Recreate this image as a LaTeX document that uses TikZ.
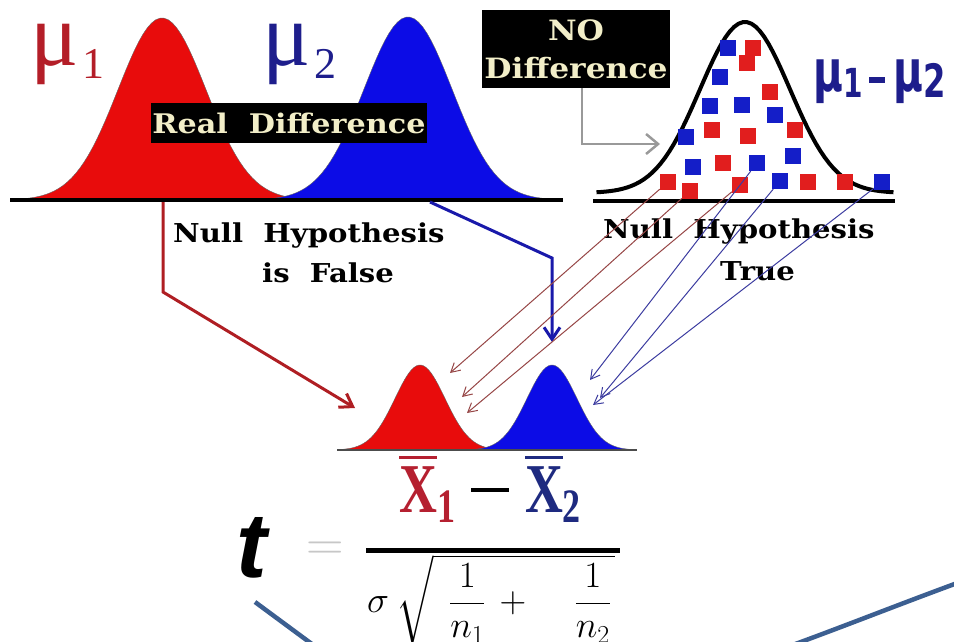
\RequirePackage{fix-cm}
\documentclass[tikz,border=0pt]{standalone}
\DeclareFontFamily{OMX}{cmex}{}
\DeclareFontShape{OMX}{cmex}{m}{n}{<->cmex10}{}
\usepackage{fontspec}
\usetikzlibrary{arrows.meta,positioning}
\newfontfamily\slabfont[FakeStretch=1.12]{DejaVu Serif}
\newfontfamily\mufont{Liberation Serif}
\newfontfamily\xfont[FakeStretch=0.75]{Liberation Serif}
\newfontfamily\narrowsans[FakeStretch=0.7]{DejaVu Sans}
\newfontfamily\tfont{Liberation Sans}
\definecolor{bellred}{RGB}{232,12,12}
\definecolor{bellblue}{RGB}{12,12,230}
\definecolor{mured}{RGB}{180,30,40}
\definecolor{mublue}{RGB}{30,30,140}
\definecolor{arrred}{RGB}{175,30,35}
\definecolor{arrblue}{RGB}{25,25,170}
\definecolor{thinr}{RGB}{150,70,70}
\definecolor{thinb}{RGB}{60,60,160}
\definecolor{boxtext}{RGB}{242,238,200}
\definecolor{sqred}{RGB}{225,30,30}
\definecolor{sqblue}{RGB}{20,30,200}
\definecolor{xred}{RGB}{181,32,48}
\definecolor{xblue}{RGB}{30,42,128}
\definecolor{steel}{RGB}{60,95,145}
\newcommand{\bellcurve}[4]{plot[domain=-3.3:3.3,samples=70] ({#1+#2*\x},{#4-(#4-#3)*exp(-\x*\x/2)})}
\newcommand{\barX}{\rlap{\raisebox{53pt}{\rule{38pt}{3pt}}}X}

\begin{document}
\begin{tikzpicture}[x=1pt,y=-1pt,
  labelbox/.style={fill=black,text=boxtext,inner sep=0pt,align=center,
                   font=\slabfont\bfseries\fontsize{27}{38}\selectfont},
  hyp/.style={anchor=base west,inner sep=0pt,font=\slabfont\bfseries\fontsize{26}{30}\selectfont},
  bigmu/.style={anchor=base west,inner sep=0pt,text height=46pt,text depth=16pt,
                font=\mufont\fontsize{90}{90}\selectfont},
  redsq/.style={fill=sqred,minimum size=16pt,inner sep=0pt},
  bluesq/.style={fill=sqblue,minimum size=16pt,inner sep=0pt},
  thickarr/.style={line width=3pt,-{Straight Barb[length=12pt,width=16pt]}},
  thinred/.style={draw=thinr,line width=1pt,-{Straight Barb[length=9pt,width=10pt]}},
  thinblue/.style={draw=thinb,line width=1pt,-{Straight Barb[length=9pt,width=10pt]}}]
  \useasboundingbox (0,0) rectangle (954,642);
  \clip (0,0) rectangle (954,642);
  % populations with a real difference
  \fill[bellred,draw=black!60] \bellcurve{162}{44}{18}{200} -- cycle;
  \fill[bellblue,draw=black!60] \bellcurve{408}{44}{17}{200} -- cycle;
  \draw[line width=4pt] (10,200) -- (563,200);
  \node[bigmu,text=mured] (mu1) at (30,66) {μ\hspace{4pt}\raisebox{-13pt}{\fontsize{44}{44}\selectfont 1}};
  \node[bigmu,text=mublue] (mu2) at (262,66) {μ\hspace{4pt}\raisebox{-13pt}{\fontsize{44}{44}\selectfont 2}};
  \node[labelbox,minimum width=276pt,minimum height=39pt] (realbox) at (289,123) {Real\ \ Difference};
  \node[hyp] (nullf) at (173,242) {Null\ \ Hypothesis};
  \node[hyp] (isfalse) at (262,282) {is\ \ False};
  % population with no difference
  \node[labelbox,minimum width=188pt,minimum height=78pt,font=\slabfont\bfseries\fontsize{28}{38}\selectfont]
       (nobox) at (576,49) {NO\\Difference};
  \draw[line width=4pt] \bellcurve{745}{45}{22}{193};
  \draw[line width=3.5pt] (593,201) -- (895,201);
  \foreach \px/\py [count=\i] in {753/48,747/63,770/92,712/130,748/136,795/130,
                                  723/163,668/182,690/191,740/185,808/182,845/182}
    \node[redsq] (r\i) at (\px,\py) {};
  \foreach \px/\py [count=\i] in {728/48,720/77,710/106,742/105,775/115,686/137,
                                  693/167,757/163,793/156,780/181,882/182}
    \node[bluesq] (b\i) at (\px,\py) {};
  \node[anchor=base west,inner sep=0pt,text=mublue,font=\narrowsans\bfseries\fontsize{58}{58}\selectfont] (mudiff)
       at (813,92) {μ\raisebox{-6pt}{\fontsize{40}{40}\selectfont 1}\hspace{6pt}\rule[9pt]{16pt}{6pt}\hspace{9pt}%
                    μ\raisebox{-6pt}{\fontsize{46}{46}\selectfont 2}};
  \node[hyp] (nullt) at (603,238) {Null\ \ Hypothesis};
  \node[hyp] (true) at (720,280) {True};
  \coordinate (gtip) at (660,144);
  \draw[line width=2.5pt,black!40,-{Straight Barb[length=12pt,width=20pt]}] ([xshift=6pt]nobox.south) |- (gtip);
  % sampling distributions
  \fill[bellred,draw=black!60] \bellcurve{420}{25}{365}{450} -- cycle;
  \fill[bellblue,draw=black!60] \bellcurve{552}{25}{365}{450} -- cycle;
  \draw[line width=1.5pt,black!70] (337,450) -- (637,450);
  \coordinate (redfoot) at (163,202);
  \coordinate (rbend) at (163,292);
  \coordinate (hitred) at (355,408);
  \coordinate (bluefoot) at (430,202);
  \coordinate (bbend) at (552,258);
  \coordinate (hitblue) at (552,342);
  \draw[thickarr,draw=arrred] (redfoot) -- (rbend) -- (hitred);
  \draw[thickarr,draw=arrblue] (bluefoot) -- (bbend) -- (hitblue);
  \coordinate (rt1) at (450,373);
  \coordinate (rt2) at (462,397);
  \coordinate (rt3) at (467,413);
  \coordinate (bt1) at (590,380);
  \coordinate (bt2) at (600,398);
  \coordinate (bt3) at (593,405);
  \draw[thinred] (r8) -- (rt1);
  \draw[thinred] (r9) -- (rt2);
  \draw[thinred] (r10) -- (rt3);
  \draw[thinblue] (b8) -- (bt1);
  \draw[thinblue] (b10) -- (bt2);
  \draw[thinblue] (b11) -- (bt3);
  % t statistic
  \node[anchor=base,inner sep=0pt,font=\xfont\bfseries\fontsize{70}{70}\selectfont] (numer) at (490,512)
       {{\color{xred}\barX\raisebox{-10pt}{\fontsize{48}{48}\selectfont 1}}\hspace{16pt}%
        \raisebox{20pt}{\rule{38pt}{4.5pt}}\hspace{16pt}%
        {\color{xblue}\barX\raisebox{-10pt}{\fontsize{48}{48}\selectfont 2}}};
  \draw[line width=5pt] (366,550) -- (620,550);
  \node[anchor=north west,inner sep=0pt,font=\fontsize{37}{44}\selectfont] (denom) at (367,554)
       {$\displaystyle\sigma\hspace{7pt}\sqrt{\hspace{16pt}\frac{1}{n_1}\hspace{6pt}+\hspace{40pt}\frac{1}{n_2}\hspace{4pt}}$};
  \node[anchor=base,inner sep=0pt,font=\tfont\bfseries\itshape\fontsize{92}{92}\selectfont] (tstat) at (252,577) {t};
  \node[inner sep=0pt,text=black!22,font=\fontsize{52}{52}\selectfont] (eq) at (325,551) {$=$};
  % frame lines
  \draw[steel,line width=4.5pt] (255,602) -- (320,650);
  \draw[steel,line width=4.5pt] (790,646) .. controls (850,624) and (900,604) .. (960,582);
\end{tikzpicture}
\end{document}
